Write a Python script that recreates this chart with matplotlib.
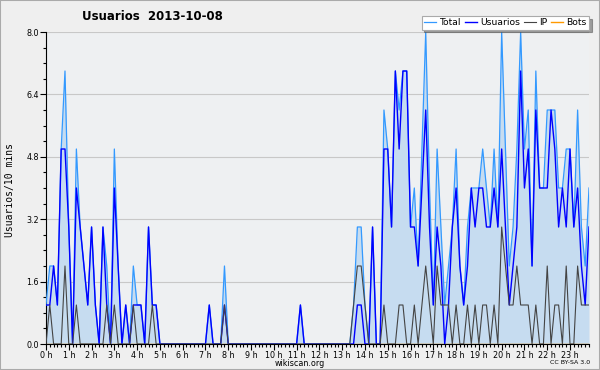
import matplotlib
matplotlib.use("Agg")
import matplotlib.pyplot as plt
import numpy as np
from matplotlib.patches import Rectangle
from matplotlib.ticker import MultipleLocator, FixedLocator

# users per 10 minute slot, 144 slots (00:00 .. 23:50)
usuarios = [1, 1, 2, 1, 5, 5, 3, 0, 4, 3, 2, 1, 3, 1, 0, 3, 1, 0, 4, 2,
            0, 1, 0, 1, 1, 1, 0, 3, 1, 1, 0, 0, 0, 0, 0, 0, 0, 0, 0, 0,
            0, 0, 0, 1, 0, 0, 0, 1, 0, 0, 0, 0, 0, 0, 0, 0, 0, 0, 0, 0,
            0, 0, 0, 0, 0, 0, 0, 1, 0, 0, 0, 0, 0, 0, 0, 0, 0, 0, 0, 0,
            0, 0, 1, 1, 0, 0, 3, 0, 0, 5, 5, 3, 7, 5, 7, 7, 3, 3, 2, 4,
            6, 3, 1, 3, 2, 0, 1, 3, 4, 2, 1, 2, 4, 3, 4, 4, 3, 3, 4, 3,
            5, 3, 1, 2, 3, 7, 4, 5, 2, 6, 4, 4, 4, 6, 5, 3, 4, 3, 5, 3,
            4, 2, 1, 3]

ip = [0, 1, 0, 0, 0, 2, 0, 0, 1, 0, 0, 0, 0, 0, 0, 0, 1, 0, 1, 0,
      0, 0, 0, 1, 0, 0, 0, 0, 1, 0, 0, 0, 0, 0, 0, 0, 0, 0, 0, 0,
      0, 0, 0, 0, 0, 0, 0, 1, 0, 0, 0, 0, 0, 0, 0, 0, 0, 0, 0, 0,
      0, 0, 0, 0, 0, 0, 0, 0, 0, 0, 0, 0, 0, 0, 0, 0, 0, 0, 0, 0,
      0, 1, 2, 2, 1, 0, 0, 0, 0, 1, 0, 0, 0, 1, 1, 0, 0, 1, 0, 1,
      2, 1, 0, 2, 1, 1, 1, 0, 1, 0, 0, 1, 0, 1, 0, 1, 1, 0, 1, 0,
      3, 2, 1, 1, 2, 1, 1, 1, 0, 1, 0, 0, 2, 0, 1, 1, 0, 2, 0, 0,
      2, 1, 1, 1]

total = [1, 2, 2, 1, 5, 7, 3, 0, 5, 3, 2, 1, 3, 1, 0, 3, 2, 0, 5, 2,
         0, 1, 0, 2, 1, 1, 0, 3, 1, 1, 0, 0, 0, 0, 0, 0, 0, 0, 0, 0,
         0, 0, 0, 1, 0, 0, 0, 2, 0, 0, 0, 0, 0, 0, 0, 0, 0, 0, 0, 0,
         0, 0, 0, 0, 0, 0, 0, 1, 0, 0, 0, 0, 0, 0, 0, 0, 0, 0, 0, 0,
         0, 1, 3, 3, 1, 0, 3, 0, 0, 6, 5, 3, 7, 6, 7, 7, 3, 4, 2, 5,
         8, 4, 1, 5, 3, 1, 2, 3, 5, 2, 1, 3, 4, 4, 4, 5, 4, 3, 5, 3,
         8, 5, 2, 3, 5, 8, 5, 6, 2, 7, 4, 4, 6, 6, 6, 4, 4, 5, 5, 3,
         6, 3, 2, 4]

bots = [0] * 144

hour_labels = ["%d h" % h for h in range(24)]

t = np.arange(len(total)) / 6.0

fig = plt.figure(figsize=(6, 3.7), dpi=100, facecolor="#efefef")
ax = fig.add_axes([46 / 600, 1 - 344 / 370, 543 / 600, 312 / 370])
ax.set_facecolor("#eef0f2")

ax.fill_between(t, total, 0, color="#c6dcf0", lw=0, zorder=1)
ax.plot(t, bots, color="#ff9900", lw=1, label="Bots", zorder=2)
ax.plot(t, total, color="#3399ff", lw=0.9, label="Total", zorder=3)
ax.plot(t, usuarios, color="#0000ff", lw=1.0, label="Usuarios", zorder=4)
ax.plot(t, ip, color="#444444", lw=0.8, label="IP", zorder=5)

ax.set_xlim(0, t[-1])
ax.set_ylim(0, 8)
ax.yaxis.set_major_locator(FixedLocator([0, 1.6, 3.2, 4.8, 6.4, 8.0]))
ax.yaxis.set_minor_locator(MultipleLocator(0.4))
ax.set_yticklabels(["%.1f" % v for v in [0, 1.6, 3.2, 4.8, 6.4, 8.0]])
ax.set_xticks(range(24))
ax.set_xticklabels(hour_labels)
ax.xaxis.set_minor_locator(MultipleLocator(1 / 6.0))
ax.tick_params(axis="both", which="major", labelsize=5.8, length=4, width=0.8, pad=1)
ax.tick_params(axis="both", which="minor", length=2.5, width=0.8)
ax.grid(True, axis="y", color="#c8c8c8", lw=0.8, zorder=0)
ax.set_axisbelow(True)
for s in ["top", "right"]:
    ax.spines[s].set_visible(False)

h, l = ax.get_legend_handles_labels()
order = [1, 2, 3, 0]
leg = fig.legend([h[i] for i in order], [l[i] for i in order], loc="upper right",
                 bbox_to_anchor=(589 / 600, 1 - 16 / 370), ncol=4, fontsize=6.7,
                 frameon=True, fancybox=False, shadow=True, handlelength=1.3,
                 handletextpad=0.35, columnspacing=0.4, borderpad=0.25, borderaxespad=0)
leg.get_frame().set_edgecolor("#aaaaaa")
leg.get_frame().set_linewidth(0.8)

fig.text(152 / 600, 1 - 16 / 370, "Usuarios  2013-10-08", ha="center", va="center",
         fontsize=8.5, fontweight="bold")
fig.text(10 / 600, 1 - 190 / 370, "Usuarios/10 mins", rotation=90, ha="center",
         va="center", fontsize=7, family="DejaVu Sans Mono")
fig.text(300 / 600, 1 - 363 / 370, "wikiscan.org", ha="center", va="center", fontsize=5.8)
fig.text(590 / 600, 1 - 363 / 370, "CC BY-SA 3.0", ha="right", va="center", fontsize=4.5)

fig.patches.append(Rectangle((0, 0), 1, 1, transform=fig.transFigure, fill=False,
                             edgecolor="#aaaaaa", lw=1.5))

fig.savefig("out.png", dpi=100, facecolor=fig.get_facecolor())
